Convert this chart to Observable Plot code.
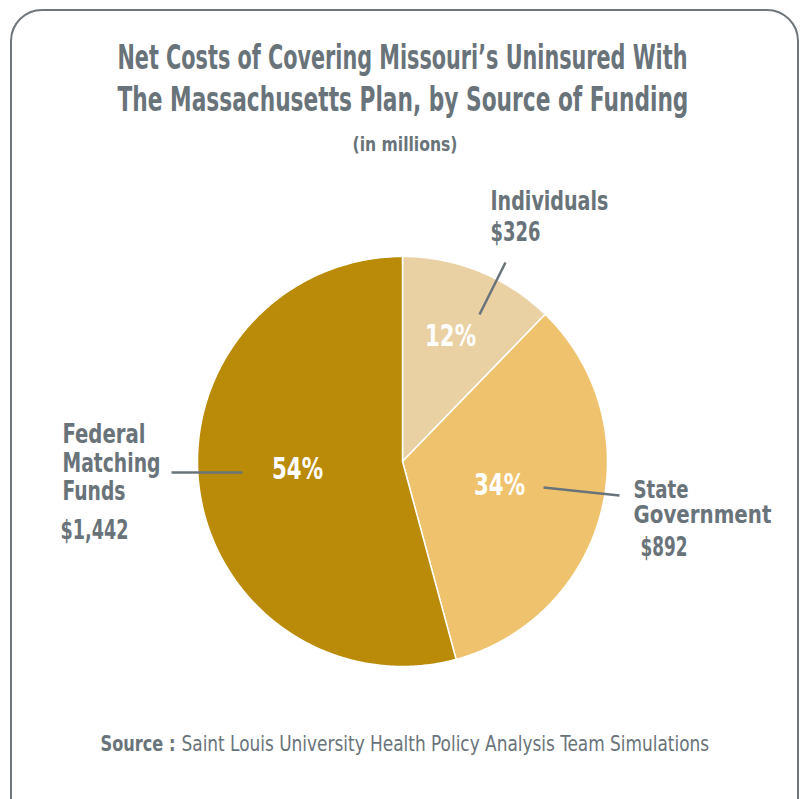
<!DOCTYPE html>
<html><head><meta charset="utf-8">
<script src="https://cdn.jsdelivr.net/npm/d3@7"></script>
<script src="https://cdn.jsdelivr.net/npm/@observablehq/plot@0.6"></script>
<style>
body{margin:0;background:#fff;}
#wrap{position:relative;width:801px;height:799px;overflow:hidden;background:#fff;}
#border{position:absolute;left:10px;top:9px;width:789px;height:830px;border:2px solid #6f777c;border-radius:32px;box-sizing:border-box;}
#chart{position:absolute;left:0;top:0;}
</style></head><body>
<div id="wrap"><div id="border"></div><div id="chart"></div></div>
<script>
// ---- data ----
const sources = ["Individuals", "State Government", "Federal Matching Funds"];
const amounts = [326, 892, 1442];
const amountLabels = ["$326", "$892", "$1,442"];
const sliceColors = ["#E9D1A4", "#EFC36D", "#BA8B08"];
const titleLines = ["Net Costs of Covering Missouri\u2019s Uninsured With", "The Massachusetts Plan, by Source of Funding"];
const subtitle = "(in millions)";
const sourceLabel = "Source :";
const sourceText = "Saint Louis University Health Policy Analysis Team Simulations";

// ---- layout (pixels) ----
const W = 801, H = 799;
const cx = 402, cy = 461, R = 205;
const grey = "#69737a";
const FONT = "'Liberation Sans Narrow','DejaVu Sans Condensed','Liberation Sans',sans-serif";

const data = sources.map((s, i) => ({name: s, amount: amounts[i], label: amountLabels[i]}));
const total = d3.sum(amounts);
const arcs = d3.pie().sort(null).value(d => d.amount)(data);

// polygon outline of each slice from pie angles
const piePoints = [];
arcs.forEach(a => {
  piePoints.push({name: a.data.name, x: cx, y: cy});
  const n = Math.max(2, Math.ceil((a.endAngle - a.startAngle) / (Math.PI / 360)));
  for (let k = 0; k <= n; k++) {
    const t = a.startAngle + (a.endAngle - a.startAngle) * k / n;
    piePoints.push({name: a.data.name, x: cx + R * Math.sin(t), y: cy - R * Math.cos(t)});
  }
});

// percent label placement (center x, baseline y)
const pctPos = [[450, 345], [499, 494], [297, 478]];
const pctLabels = arcs.map((a, i) => ({
  text: Math.round(a.data.amount / total * 100) + "%", x: pctPos[i][0], y: pctPos[i][1]
}));

// text items: text, x (left), baseline y, size, weight, width
const texts = [
  {t: titleLines[0], x: 117, y: 68, s: 33, w: 700, len: 570},
  {t: titleLines[1], x: 117, y: 110, s: 33, w: 700, len: 571},
  {t: subtitle, x: 352, y: 150, s: 20, w: 700, len: 105},
  {t: "Individuals", x: 490, y: 209, s: 27, w: 700, len: 118},
  {t: amountLabels[0], x: 490, y: 240, s: 27, w: 700, len: 50},
  {t: "State", x: 633, y: 497, s: 25, w: 700, len: 55},
  {t: "Government", x: 633, y: 522, s: 25, w: 700, len: 138},
  {t: amountLabels[1], x: 640, y: 555, s: 26, w: 700, len: 47},
  {t: "Federal", x: 62, y: 442, s: 26, w: 700, len: 83},
  {t: "Matching", x: 62, y: 471, s: 26, w: 700, len: 98},
  {t: "Funds", x: 62, y: 499, s: 26, w: 700, len: 63},
  {t: amountLabels[2], x: 60, y: 538, s: 27, w: 700, len: 68},
  {t: sourceLabel, x: 100, y: 750, s: 22, w: 700, len: 75},
  {t: sourceText, x: 181, y: 750, s: 22, w: 400, len: 528}
];
const pctLen = 51;

const leaders = [
  {x1: 505, y1: 262, x2: 479, y2: 314},
  {x1: 543, y1: 487, x2: 619, y2: 495},
  {x1: 171, y1: 472, x2: 242, y2: 472}
];

const marks = [
  Plot.line(piePoints, {x: "x", y: "y", z: "name", fill: "name", stroke: "white", strokeWidth: 1.5, curve: "linear-closed"}),
  Plot.link(leaders, {x1: "x1", y1: "y1", x2: "x2", y2: "y2", stroke: grey, strokeWidth: 2.5}),
  Plot.text(pctLabels, {x: "x", y: "y", text: "text", fill: "white", fontSize: 31, fontWeight: 700, textAnchor: "middle", lineAnchor: "bottom", fontFamily: FONT})
];
texts.forEach(d => marks.push(Plot.text([d], {x: "x", y: "y", text: "t", fill: grey, fontSize: d.s, fontWeight: d.w, textAnchor: "start", lineAnchor: "bottom", fontFamily: FONT})));

const chart = Plot.plot({
  width: W, height: H, margin: 0,
  style: {background: "transparent", overflow: "visible"},
  x: {domain: [0, W], range: [0, W], axis: null},
  y: {domain: [0, H], range: [0, H], axis: null},
  color: {domain: sources, range: sliceColors},
  marks
});
document.getElementById("chart").appendChild(chart);

// horizontally scale each text to its measured width in the reference
const lenMap = new Map(texts.map(d => [d.t, d.len]));
chart.querySelectorAll("text").forEach(el => {
  const s = el.textContent;
  const len = lenMap.has(s) ? lenMap.get(s) : (/%$/.test(s) ? pctLen : null);
  if (!len) return;
  const nat = el.getComputedTextLength();
  if (!nat) return;
  const sx = len / nat;
  el.setAttribute("transform", (el.getAttribute("transform") || "") + ` scale(${sx.toFixed(4)},1)`);
});
</script>
</body></html>
